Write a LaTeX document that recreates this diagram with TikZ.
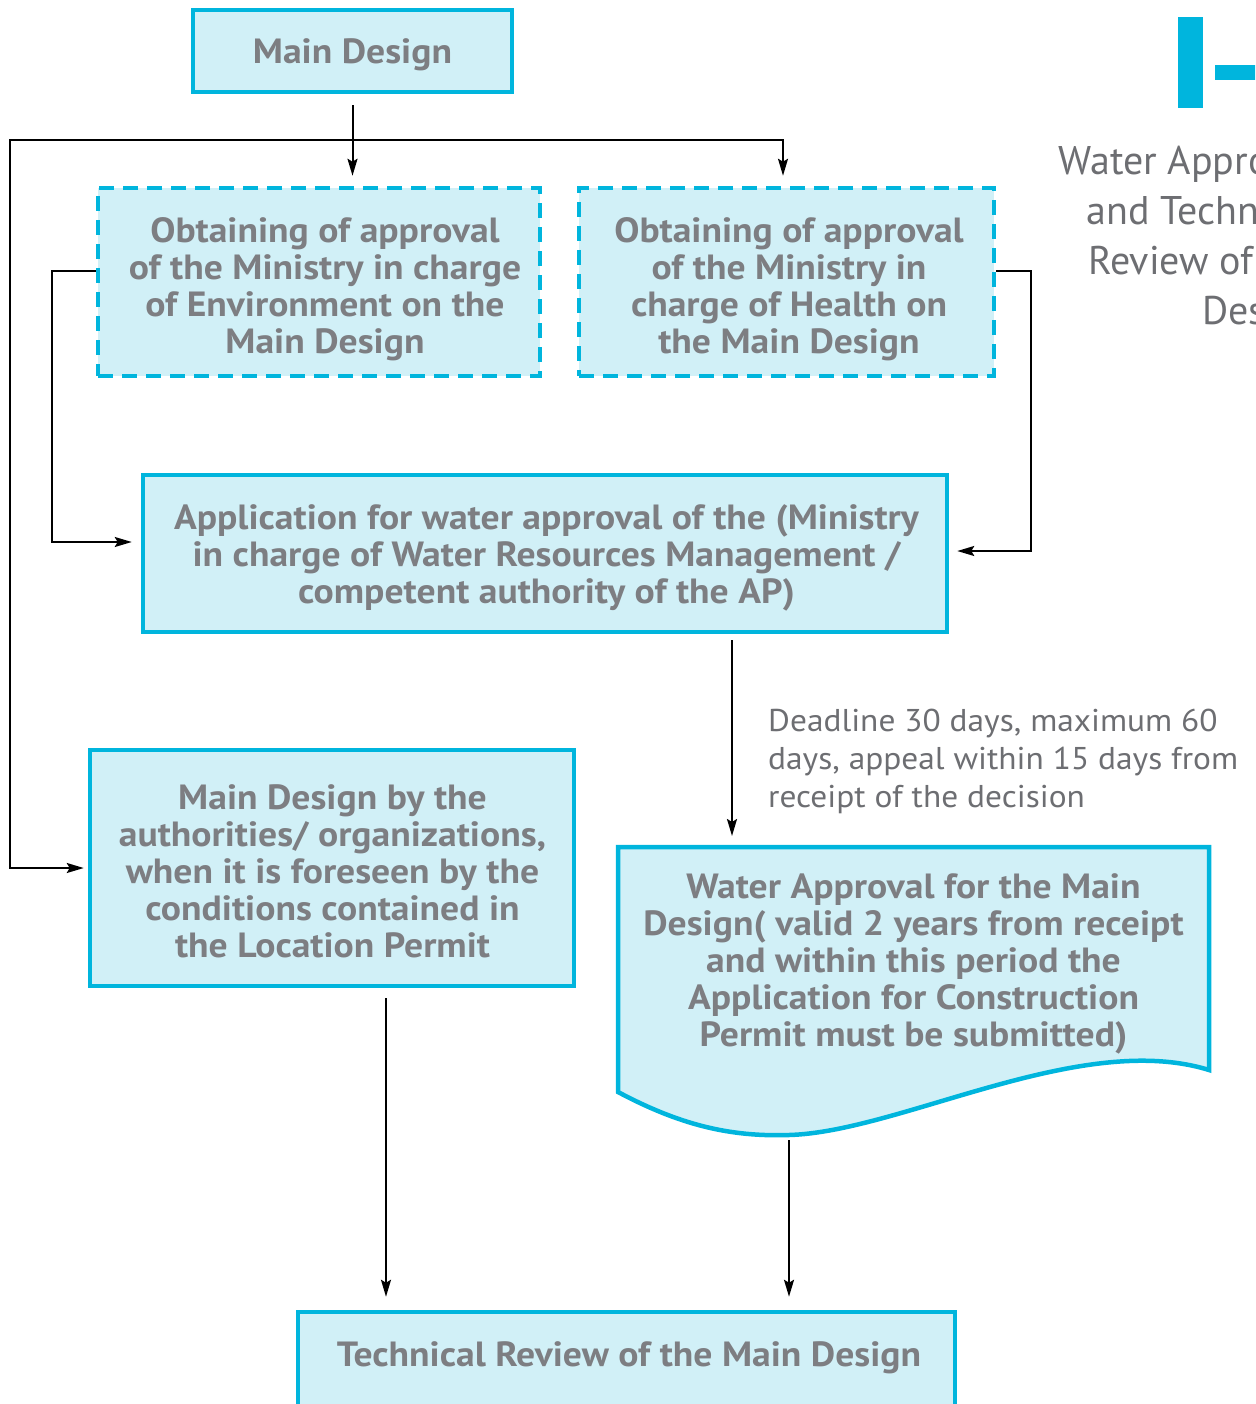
\documentclass[tikz,border=0pt]{standalone}
\usepackage{fontspec}
\setmainfont{PT Sans}
\usetikzlibrary{arrows.meta}
\definecolor{cyanline}{HTML}{00B5DD}
\definecolor{cyanfill}{HTML}{D1F0F7}
\definecolor{boxtext}{HTML}{7D7E82}
\definecolor{plaintext}{HTML}{6D6E72}
\newfontfamily\boxfont[FakeStretch=1.075]{PT Sans}
\newfontfamily\notefont[FakeStretch=1.06]{PT Sans}
\tikzset{
  box/.style={draw=cyanline, line width=4.5pt, fill=cyanfill, inner sep=0pt},
  dbox/.style={box, dash pattern=on 15pt off 9pt},
  boxlabel/.style={text=boxtext, font=\boxfont\fontsize{35}{37}\selectfont\bfseries, align=center, inner sep=0pt},
  conn/.style={line width=2pt, -{Stealth[length=17pt,width=10pt,inset=3pt]}},
}
\begin{document}
\begin{tikzpicture}[x=1pt,y=-1pt]
\useasboundingbox (0,0) rectangle (1255,1404);
\clip (0,0) rectangle (1255,1404);

% title mark and heading
\fill[cyanline] (1178,17) rectangle (1203,108);
\fill[cyanline] (1215,65) rectangle (1262,80);
\node[text=plaintext, font=\fontsize{40}{50}\selectfont, align=right, anchor=east, inner sep=0pt]
  (title) at (1320,240) {Water Approval\\and Technical\\Review of the\\Design};

% boxes
\node[box, minimum width=319, minimum height=82] (main) at (352.5,51) {};
\node[boxlabel] (mainlbl) at (352.5,55) {Main Design};

\node[dbox, minimum width=442, minimum height=188] (d1) at (319,282) {};
\node[boxlabel] (d1lbl) at (325,289.5)
  {Obtaining of approval\\of the Ministry in charge\\of Environment  on the\\Main Design};

\node[dbox, minimum width=415, minimum height=188] (d2) at (786.5,282) {};
\node[boxlabel] (d2lbl) at (789,289.5)
  {Obtaining of approval\\of the Ministry in\\charge  of Health on\\the Main Design};

\node[box, minimum width=804, minimum height=157] (app) at (545,553.5) {};
\node[boxlabel] (applbl) at (546.5,558)
  {Application for water approval of the (Ministry\\in charge of Water Resources Management /\\competent authority of the AP)};

\node[box, minimum width=484, minimum height=236] (left) at (332,868) {};
\node[boxlabel] (leftlbl) at (332.5,871)
  {Main Design by the\\authorities/ organizations,\\when it is foreseen by the\\conditions contained in\\the Location Permit};

\node[box, minimum width=657, minimum height=108] (tech) at (626.5,1366) {};
\node[boxlabel] (techlbl) at (629,1358) {Technical Review of the Main Design};

% document shape with wavy lower edge
\coordinate (doctop) at (732,847);
\coordinate (docbot) at (789,1135);
\draw[line width=4.5pt, draw=cyanline, fill=cyanfill]
  (618,847) -- (1209,847) -- (1209,1070)
  .. controls (1080,1030) and (900,1132) .. (789,1135)
  .. controls (730,1137) and (680,1125) .. (618,1092) -- cycle;
\node[boxlabel] (doc) at (913.5,964)
  {Water  Approval for the Main\\Design( valid 2 years from receipt\\and within this period the\\Application for  Construction\\Permit must be submitted)};

\node[text=plaintext, font=\notefont\fontsize{31.5}{38}\selectfont, align=left, anchor=west, inner sep=0pt]
  (deadline) at (768,761)
  {Deadline 30 days, maximum 60\\days, appeal within  15 days from\\receipt of the decision};

% connectors
\coordinate (tap) at (352,140);
\draw[conn, shorten <=11pt, shorten >=10pt] (main.south) -- (main.south |- d1.north);
\draw[conn, shorten >=10pt] (tap) -| (783,0 |- d2.north);
\draw[conn, shorten >=4pt] (tap) -| (10,0 |- left.west) -- (left.west);
\draw[conn, shorten >=9pt] ([yshift=11pt]d1.west) -- (52,271) |- ([yshift=11.5pt]app.west);
\draw[conn, shorten >=8pt] ([yshift=11pt]d2.east) -- (1031,271) |- ([yshift=2.5pt]app.east);
\draw[conn, shorten <=6pt, shorten >=11pt] (app.south -| doctop) -- (doctop);
\draw[conn, shorten <=10pt, shorten >=13pt] (left.south -| 386,0) -- (tech.north -| 386,0);
\draw[conn, shorten <=5pt, shorten >=13pt] (docbot) -- (tech.north -| docbot);
\end{tikzpicture}
\end{document}
